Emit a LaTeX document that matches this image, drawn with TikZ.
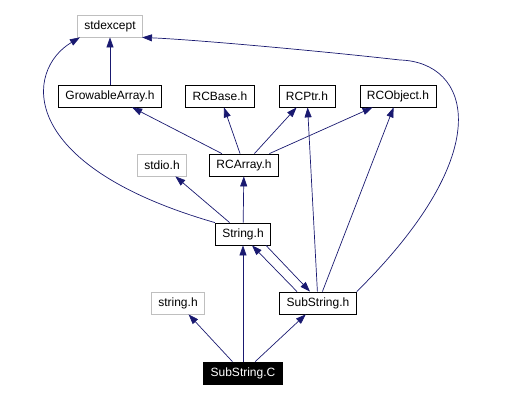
\documentclass[tikz,border=0pt]{standalone}
\usepackage{fontspec}
\setmainfont{Liberation Sans}
\usepackage{tikz}
\usetikzlibrary{arrows.meta}
\definecolor{edgeblue}{RGB}{25,25,112}
\definecolor{sysgray}{RGB}{191,191,191}
\tikzset{
  hdr/.style={draw=black, fill=white, line width=0.8pt, minimum height=22pt, inner xsep=7pt, inner ysep=2pt, font=\fontsize{12}{14}\selectfont},
  sys/.style={hdr, draw=sysgray},
  cur/.style={hdr, fill=black, text=white},
  dep/.style={edgeblue, line width=0.7pt, -{Triangle[length=10pt,width=7pt]}},
}
\begin{document}
\begin{tikzpicture}[x=1pt, y=-1pt]
  \useasboundingbox (0,0) rectangle (515,401);
  \node[sys] (stdexcept) at (110,26) {stdexcept};
  \node[hdr] (grow) at (110,96) {GrowableArray.h};
  \node[hdr] (rcbase) at (220,96) {RCBase.h};
  \node[hdr] (rcptr) at (307,96) {RCPtr.h};
  \node[hdr] (rcobj) at (398,96) {RCObject.h};
  \node[sys] (stdio) at (162,165) {stdio.h};
  \node[hdr] (rcarray) at (244,165) {RCArray.h};
  \node[hdr] (strh) at (243,234) {String.h};
  \node[sys] (lstrh) at (178,303) {string.h};
  \node[hdr] (subh) at (318,303) {SubString.h};
  \node[cur] (subc) at (243,373) {SubString.C};
  \draw[dep] (grow) -- (stdexcept);
  \draw[dep] (strh.north west) .. controls (15,165) and (25,70) .. ([xshift=3pt]stdexcept.south west);
  \draw[dep] (subh.north east) .. controls (500,150) and (470,62) .. (400,60)
    .. controls (330,52) and (200,40) .. ([xshift=-1pt]stdexcept.south east);
  \draw[dep] (rcarray) -- (grow);
  \draw[dep] (rcarray) -- (rcbase);
  \draw[dep] (rcarray) -- (rcptr);
  \draw[dep] (rcarray) -- (rcobj);
  \draw[dep] (strh) -- (rcarray);
  \draw[dep] (strh) -- (stdio);
  \draw[dep] ([xshift=23pt]strh.south) -- ([xshift=-8pt]subh.north);
  \draw[dep] ([xshift=-21pt]subh.north) -- ([xshift=9pt]strh.south);
  \draw[dep] (subh) -- (rcptr);
  \draw[dep] (subh) -- (rcobj);
  \draw[dep] (subc) -- (lstrh);
  \draw[dep] (subc) -- (strh);
  \draw[dep] (subc) -- (subh);
\end{tikzpicture}
\end{document}
